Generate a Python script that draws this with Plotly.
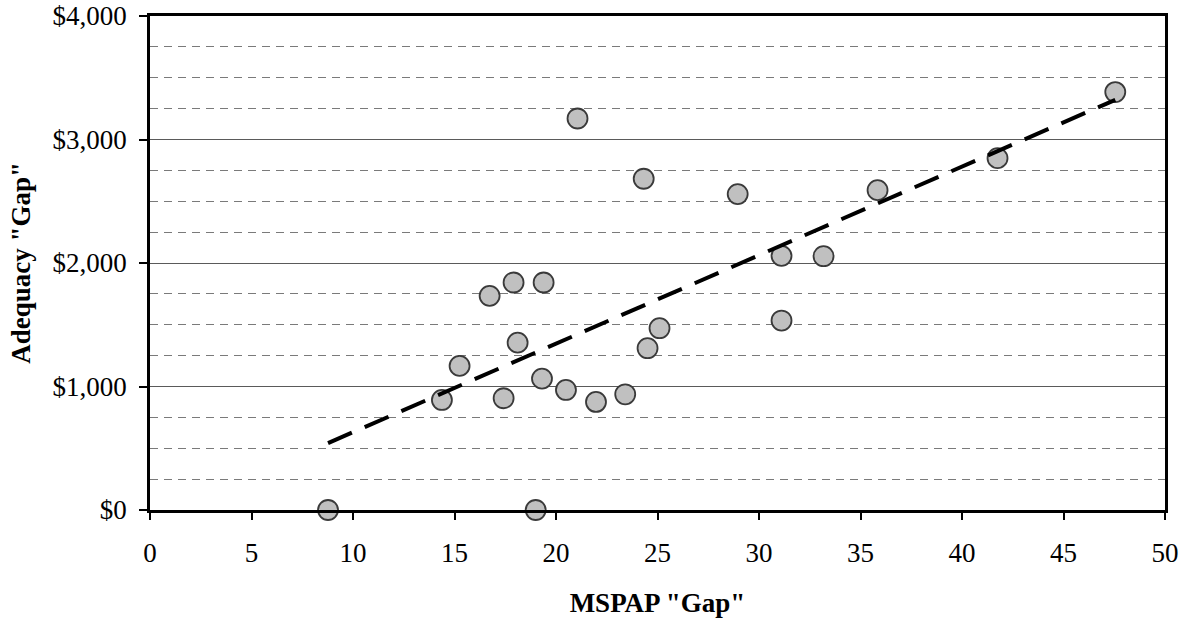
import numpy as np
import plotly.graph_objects as go

mspap_gap = [8.77, 19.0, 14.38, 15.25, 16.73, 17.42, 17.91, 18.11, 19.39, 19.31, 20.49, 21.06,
             21.97, 23.41, 24.32, 24.51, 25.10, 28.95, 31.11, 31.11, 33.18, 35.84, 41.75, 47.55]
adequacy_gap = [0, 0, 891, 1167, 1734, 905, 1842, 1355, 1842, 1064, 972, 3170,
                875, 937, 2682, 1310, 1472, 2558, 1534, 2058, 2055, 2590, 2849, 3384]

x_ticks = [0, 5, 10, 15, 20, 25, 30, 35, 40, 45, 50]
y_ticks = [0, 1000, 2000, 3000, 4000]
y_tick_labels = ["$0", "$1,000", "$2,000", "$3,000", "$4,000"]

x = np.array(mspap_gap)
y = np.array(adequacy_gap)
slope, intercept = np.polyfit(x, y, 1)
fit_x = np.array([x.min(), x.max()])
fit_y = slope * fit_x + intercept

FONT = "Liberation Serif"

fig = go.Figure()
fig.add_trace(go.Scatter(
    x=mspap_gap, y=adequacy_gap, mode="markers",
    marker=dict(size=20, color="#c0c0c0", line=dict(color="#3a3a3a", width=1.8)),
    cliponaxis=False, showlegend=False,
))
fig.add_trace(go.Scatter(
    x=fit_x, y=fit_y, mode="lines",
    line=dict(color="black", width=4, dash="26px,14px"),
    showlegend=False,
))

fig.update_layout(
    width=1187, height=618,
    margin=dict(l=150, r=22, t=16, b=108),
    paper_bgcolor="white", plot_bgcolor="white",
    font=dict(family=FONT, size=27, color="black"),
)
fig.update_xaxes(
    range=[0, 50], tickvals=x_ticks, ticktext=[str(v) for v in x_ticks],
    ticks="outside", ticklen=7, tickwidth=1.5, tickcolor="black",
    ticklabelstandoff=10, automargin=False, ticklabeloverflow="allow",
    showline=True, linecolor="black", linewidth=2.5, mirror=True,
    showgrid=False, zeroline=False,
    title=dict(text='<b>MSPAP "Gap"</b>', font=dict(family=FONT, size=27), standoff=31),
)
fig.update_yaxes(
    range=[0, 4000], tickvals=y_ticks, ticktext=y_tick_labels,
    ticks="outside", ticklen=8, tickwidth=1.5, tickcolor="black",
    ticklabelstandoff=7, automargin=False, ticklabeloverflow="allow",
    showline=True, linecolor="black", linewidth=2.5, mirror=True,
    showgrid=True, gridcolor="#5a5a5a", gridwidth=1, zeroline=False,
    minor=dict(dtick=250, showgrid=True, gridcolor="#7a7a7a", gridwidth=1,
               griddash="8px,6px", ticks=""),
    title=dict(text='<b>Adequacy "Gap"</b>', font=dict(family=FONT, size=27), standoff=15),
)

fig.write_html(
    "out.html",
    config={"displayModeBar": False},
    post_script="document.body.style.margin='0';document.body.style.overflow='hidden';",
)
